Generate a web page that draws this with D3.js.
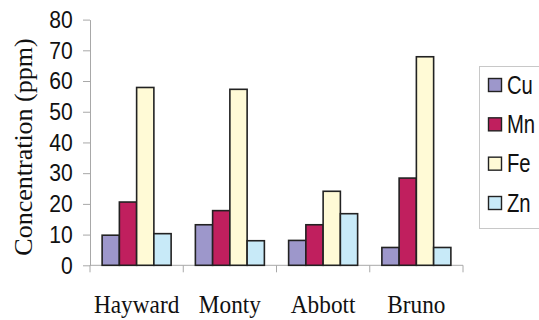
<!DOCTYPE html>
<html>
<head>
<meta charset="utf-8">
<script src="https://cdn.jsdelivr.net/npm/d3@7"></script>
<style>
  html, body { margin: 0; padding: 0; background: #fff; }
  svg { display: block; }
</style>
</head>
<body>
<svg id="chart" width="539" height="320"></svg>
<script>
const categories = ["Hayward", "Monty", "Abbott", "Bruno"];
const seriesNames = ["Cu", "Mn", "Fe", "Zn"];
const Cu = [9.8, 13.2, 8.1, 5.8];
const Mn = [20.6, 17.8, 13.2, 28.4];
const Fe = [57.9, 57.3, 24.1, 67.9];
const Zn = [10.3, 8.0, 16.8, 5.8];
const yTicks = [0, 10, 20, 30, 40, 50, 60, 70, 80];
const colors = ["#9d97cb", "#c01f5e", "#fffad6", "#c8eaf8"];

const seriesValues = [Cu, Mn, Fe, Zn];
const svg = d3.select("#chart");
const SANS = "'Liberation Sans', Arial, sans-serif";
const SERIF = "'Liberation Serif', 'Times New Roman', serif";

const x0 = d3.scaleBand().domain(categories).range([90, 463])
  .paddingInner(0.26).paddingOuter(0.13);
const x1 = d3.scaleBand().domain(seriesNames).range([0, x0.bandwidth()]).padding(0);
const y = d3.scaleLinear().domain([0, 80]).range([265.3, 19.6]);
const color = d3.scaleOrdinal().domain(seriesNames).range(colors);

// Y axis
const yAxis = d3.axisLeft(y).tickValues(yTicks).tickSize(7).tickSizeOuter(0).tickPadding(11);
const gy = svg.append("g").attr("transform", "translate(90,0)").call(yAxis);
gy.select(".domain").attr("stroke", "#a8a8a8").attr("stroke-width", 1);
gy.selectAll(".tick line").attr("stroke", "#a8a8a8");
gy.selectAll(".tick text")
  .attr("fill", "#111")
  .attr("transform", "scale(0.96,1.1)")
  .style("font-family", SANS)
  .style("font-size", "22px");

// X axis (ticks at category boundaries)
const gx = svg.append("g");
const x0Start = x0.range()[0];
gx.append("line")
  .attr("x1", x0Start).attr("x2", x0.range()[1])
  .attr("y1", y(0)).attr("y2", y(0))
  .attr("stroke", "#a8a8a8");
d3.range(categories.length + 1).forEach(i => {
  const bx = x0Start + i * x0.step();
  gx.append("line")
    .attr("x1", bx).attr("x2", bx)
    .attr("y1", y(0)).attr("y2", y(0) + 7)
    .attr("stroke", "#a8a8a8");
});
gx.selectAll("text.cat").data(categories).enter().append("text")
  .attr("class", "cat")
  .attr("transform", d => `translate(${x0(d) + x0.bandwidth() / 2},313) scale(0.97,1.08)`)
  .attr("text-anchor", "middle")
  .attr("fill", "#111")
  .style("font-family", SERIF)
  .style("font-size", "24px")
  .text(d => d);

// Bars
const groups = svg.append("g").selectAll("g").data(categories).enter().append("g")
  .attr("transform", d => `translate(${x0(d)},0)`);
groups.selectAll("rect")
  .data((d, i) => seriesNames.map((s, j) => ({ s, v: seriesValues[j][i] })))
  .enter().append("rect")
  .attr("x", d => x1(d.s))
  .attr("y", d => y(d.v))
  .attr("width", x1.bandwidth())
  .attr("height", d => y(0) - y(d.v))
  .attr("fill", d => color(d.s))
  .attr("stroke", "#222")
  .attr("stroke-width", 1.6);

// Y title
svg.append("text")
  .attr("transform", "translate(32,147) rotate(-90)")
  .attr("text-anchor", "middle")
  .attr("fill", "#111")
  .style("font-family", SERIF)
  .style("font-size", "26px")
  .text("Concentration (ppm)");

// Legend
const lg = svg.append("g");
lg.append("rect")
  .attr("x", 479.5).attr("y", 66.5).attr("width", 80).attr("height", 162)
  .attr("fill", "#fff").attr("stroke", "#c8c8c8");
const rowY = d3.scalePoint().domain(seriesNames).range([85, 203]);
const items = lg.selectAll("g.item").data(seriesNames).enter().append("g")
  .attr("class", "item")
  .attr("transform", d => `translate(0,${rowY(d)})`);
items.append("rect")
  .attr("x", 488.5).attr("y", -6.5).attr("width", 13).attr("height", 13)
  .attr("fill", d => color(d)).attr("stroke", "#222").attr("stroke-width", 1.4);
items.append("text")
  .attr("transform", "translate(507,8.5) scale(0.92,1.15)")
  .attr("fill", "#111")
  .style("font-family", SANS)
  .style("font-size", "22px")
  .text(d => d);
</script>
</body>
</html>
